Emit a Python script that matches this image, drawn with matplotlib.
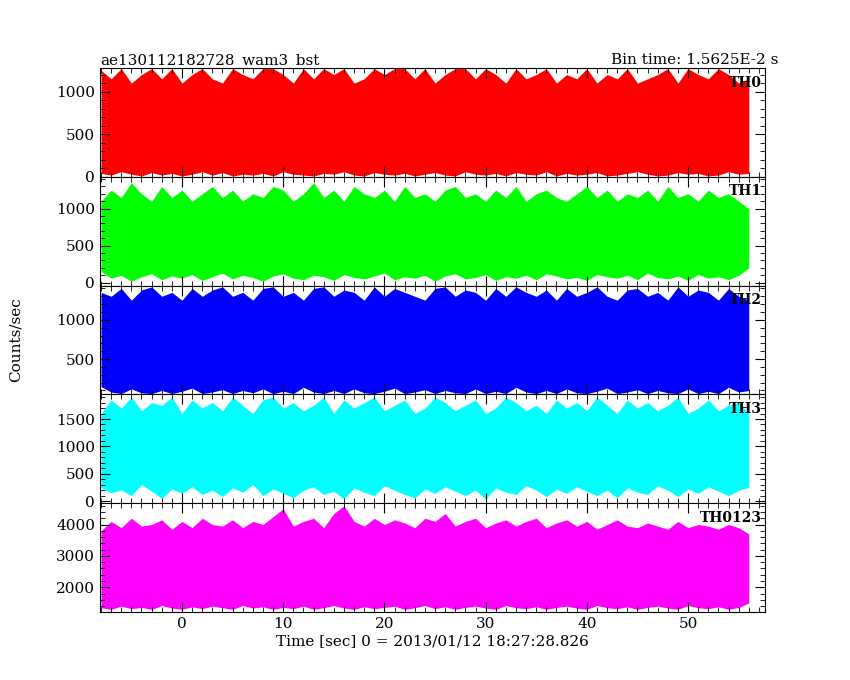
import numpy as np
import matplotlib.pyplot as plt
from matplotlib.ticker import MultipleLocator

# time bins (1 s) and rough per-bin max / min count rates
t = np.arange(-8, 57)

th0_hi = [1250, 1150, 1270, 1100, 1200, 1270, 1150, 1270, 1100, 1200, 1270, 1150, 1100, 1270, 1200,
          1150, 1270, 1270, 1200, 1100, 1270, 1150, 1270, 1200, 1270, 1100, 1150, 1270, 1200, 1270,
          1270, 1150, 1270, 1100, 1200, 1270, 1270, 1150, 1270, 1200, 1100, 1270, 1150, 1200, 1270,
          1100, 1200, 1150, 1270, 1100, 1200, 1150, 1270, 1100, 1150, 1200, 1270, 1100, 1270, 1200,
          1150, 1270, 1200, 1100, 1150]
th0_lo = [40, 20, 60, 30, 10, 50, 20, 40, 10, 30, 60, 20, 50, 10, 30,
          20, 40, 10, 60, 30, 20, 10, 40, 30, 60, 20, 10, 50, 30, 20,
          40, 10, 30, 50, 20, 10, 60, 30, 20, 40, 10, 50, 30, 20, 60,
          10, 40, 20, 30, 50, 10, 20, 40, 60, 30, 10, 20, 50, 30, 40,
          10, 20, 60, 30, 40]
th1_hi = [1100, 1250, 1150, 1350, 1200, 1100, 1300, 1150, 1250, 1100, 1200, 1300, 1150, 1250, 1100,
          1200, 1150, 1300, 1250, 1100, 1200, 1350, 1150, 1250, 1100, 1300, 1200, 1150, 1250, 1100,
          1300, 1150, 1200, 1100, 1250, 1300, 1150, 1200, 1100, 1250, 1150, 1300, 1100, 1200, 1250,
          1150, 1100, 1200, 1300, 1150, 1250, 1100, 1200, 1150, 1250, 1100, 1300, 1150, 1200, 1100,
          1250, 1150, 1200, 1100, 1000]
th1_lo = [150, 60, 100, 20, 80, 120, 40, 90, 60, 110, 30, 80, 130, 50, 100,
          70, 20, 90, 120, 60, 40, 100, 80, 30, 110, 70, 50, 90, 130, 40,
          80, 60, 100, 20, 90, 120, 50, 70, 110, 30, 80, 60, 100, 40, 120,
          90, 50, 70, 30, 110, 80, 60, 100, 40, 130, 70, 50, 90, 30, 110,
          60, 80, 40, 100, 200]
th2_hi = [1350, 1300, 1400, 1250, 1380, 1420, 1300, 1350, 1250, 1400, 1300, 1380, 1420, 1300, 1350,
          1250, 1400, 1420, 1300, 1350, 1250, 1400, 1420, 1300, 1380, 1350, 1250, 1420, 1300, 1400,
          1350, 1300, 1250, 1400, 1420, 1300, 1380, 1350, 1250, 1400, 1300, 1420, 1350, 1300, 1380,
          1250, 1400, 1300, 1350, 1420, 1300, 1250, 1380, 1400, 1300, 1350, 1250, 1420, 1300, 1380,
          1350, 1250, 1400, 1300, 1250]
th2_lo = [150, 80, 60, 120, 70, 60, 100, 60, 90, 130, 60, 80, 110, 60, 100,
          70, 120, 60, 90, 60, 140, 80, 60, 100, 60, 120, 70, 60, 90, 130,
          60, 80, 110, 60, 100, 70, 60, 120, 60, 90, 60, 140, 80, 60, 100,
          60, 120, 70, 60, 90, 130, 60, 80, 110, 60, 100, 70, 60, 120, 60,
          90, 60, 140, 80, 100]
th3_hi = [1600, 1850, 1700, 1900, 1650, 1800, 1750, 1900, 1600, 1850, 1700, 1800, 1650, 1900, 1750,
          1600, 1850, 1900, 1700, 1800, 1650, 1750, 1900, 1600, 1850, 1700, 1800, 1900, 1650, 1750,
          1850, 1600, 1700, 1900, 1800, 1650, 1750, 1850, 1600, 1700, 1900, 1800, 1650, 1750, 1600,
          1850, 1700, 1800, 1650, 1900, 1750, 1600, 1850, 1700, 1800, 1650, 1750, 1900, 1600, 1700,
          1850, 1650, 1750, 1800, 1600]
th3_lo = [250, 150, 200, 100, 300, 180, 50, 220, 140, 260, 120, 200, 80, 240, 160,
          300, 100, 220, 140, 60, 200, 260, 120, 180, 40, 240, 160, 100, 280, 200,
          120, 60, 220, 140, 260, 180, 100, 200, 40, 240, 160, 120, 280, 200, 80,
          220, 140, 260, 180, 100, 200, 60, 240, 160, 120, 280, 200, 80, 220, 140,
          260, 180, 100, 200, 250]
th0123_hi = [3800, 4100, 3900, 4200, 3950, 4000, 4150, 3850, 4100, 3900, 4200, 4000, 3950, 4150, 3900,
             4100, 4000, 4250, 4500, 3950, 4100, 4200, 3900, 4350, 4600, 4100, 3950, 4200, 4000, 4150,
             4050, 3900, 4200, 4100, 4350, 3950, 4100, 4200, 3900, 4050, 4150, 3950, 4100, 4200, 3900,
             4050, 4150, 3950, 4100, 3850, 4000, 4150, 3950, 3900, 4050, 3950, 3850, 4100, 3900, 4000,
             3950, 3850, 4000, 3900, 3700]
th0123_lo = [1350, 1300, 1400, 1320, 1360, 1300, 1420, 1340, 1300, 1380, 1320, 1400, 1350, 1300, 1420,
             1340, 1380, 1300, 1360, 1320, 1400, 1300, 1350, 1420, 1340, 1300, 1380, 1320, 1360, 1400,
             1300, 1350, 1420, 1320, 1380, 1300, 1360, 1400, 1340, 1300, 1420, 1350, 1320, 1380, 1300,
             1360, 1400, 1340, 1300, 1420, 1350, 1320, 1380, 1300, 1360, 1400, 1340, 1300, 1420, 1350,
             1320, 1380, 1300, 1360, 1500]

panels = [
    ("TH0", th0_hi, th0_lo, "#ff0000", (0, 1277), [0, 500, 1000], 100),
    ("TH1", th1_hi, th1_lo, "#00ff00", (-40, 1430), [0, 500, 1000], 100),
    ("TH2", th2_hi, th2_lo, "#0000ff", (50, 1436), [500, 1000], 100),
    ("TH3", th3_hi, th3_lo, "#00ffff", (-40, 1950), [0, 500, 1000, 1500], 100),
    ("TH0123", th0123_hi, th0123_lo, "#ff00ff", (1214, 4680), [2000, 3000, 4000], 200),
]

plt.rcParams['font.family'] = 'DejaVu Serif'
fig = plt.figure(figsize=(8.5, 6.8), dpi=100)
W, H = 850, 680
left, right, top, bottom = 100, 765, 68, 612
ph = (bottom - top) / 5

for i, (name, hi, lo, col, ylim, yt, minor) in enumerate(panels):
    y0 = top + i * ph
    ax = fig.add_axes([left / W, 1 - (y0 + ph) / H, (right - left) / W, ph / H])
    ax.fill_between(t, lo, hi, color=col, lw=0)
    ax.set_xlim(-8.1, 57.6)
    ax.set_ylim(*ylim)
    ax.set_yticks(yt)
    ax.yaxis.set_minor_locator(MultipleLocator(minor))
    ax.xaxis.set_major_locator(MultipleLocator(10))
    ax.xaxis.set_minor_locator(MultipleLocator(1))
    ax.tick_params(which='both', direction='in', top=True, right=True, labelsize=11)
    ax.tick_params(which='major', length=7)
    ax.tick_params(which='minor', length=3.5)
    ax.text(0.995, 0.93, name, transform=ax.transAxes, ha='right', va='top',
            fontsize=10, fontweight='bold')
    if i < 4:
        ax.set_xticklabels([])
    else:
        ax.set_xlabel("Time [sec] 0 = 2013/01/12 18:27:28.826", fontsize=11, labelpad=2)
    if i == 0:
        ax.set_title("ae130112182728_wam3_bst", loc='left', fontsize=11, pad=3)
        ax.set_title("Bin time: 1.5625E-2 s", loc='right', fontsize=11, pad=3, x=1.02)

fig.text(0.018, 0.5, "Counts/sec", rotation=90, va='center', ha='center', fontsize=11)
fig.savefig("out.png", dpi=100)
